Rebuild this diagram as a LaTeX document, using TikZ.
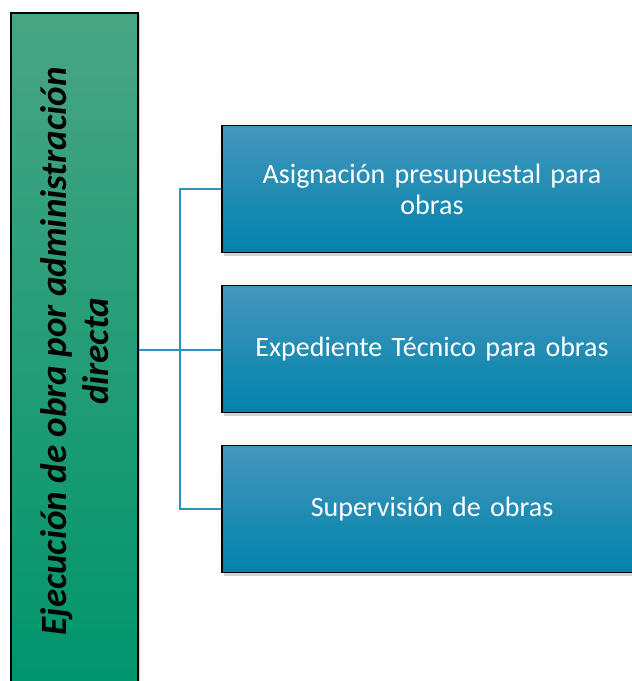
\documentclass[tikz,border=0pt]{standalone}
\usepackage{fontspec}
\setmainfont{Carlito}
\usepackage{tikz}
\usetikzlibrary{shadows}
\definecolor{greentop}{HTML}{48A584}
\definecolor{greenbot}{HTML}{00956B}
\definecolor{bluetop}{HTML}{4596BC}
\definecolor{bluebot}{HTML}{0083AC}
\definecolor{linkblue}{HTML}{2C93BE}
\tikzstyle{mainbox} = [rectangle, draw=black, line width=1.3pt, top color=greentop, bottom color=greenbot, text=black, font=\fontsize{37}{42}\selectfont\bfseries\itshape, align=center, minimum width=127pt, minimum height=677pt, inner sep=0pt, drop shadow={shadow xshift=2pt, shadow yshift=-2pt, opacity=0.35}]
\tikzstyle{task} = [rectangle, draw=black, line width=1.3pt, top color=bluetop, bottom color=bluebot, text=white, font=\fontsize{28}{31}\selectfont, align=center, text width=400pt, minimum width=420pt, minimum height=127pt, inner sep=0pt, drop shadow={shadow xshift=2pt, shadow yshift=-3pt, opacity=0.35}]
\tikzstyle{link} = [draw=linkblue, line width=1.2pt]

\begin{document}
\begin{tikzpicture}[x=1pt, y=1pt]
\useasboundingbox (0,0) rectangle (632,-681);
\clip (0,0) rectangle (632,-681);
\node [mainbox] (obra) at (74.5,-351.5) {};
\node [rotate=90, align=center, text=black, font=\fontsize{37}{42}\selectfont\bfseries\itshape] (obra-text) at (obra.center) {Ejecución de obra por administración\\directa};
\node [task] (asig) at (432,-189) {Asignación presupuestal para\\obras};
\node [task] (exped) at (432,-349) {Expediente Técnico para obras};
\node [task] (superv) at (432,-509) {Supervisión de obras};
\coordinate (fork) at (180,-350);
\path [link] (obra.east |- fork) -- (fork);
\path [link] (fork) -- (exped.west |- fork);
\path [link] (fork) |- (asig.west);
\path [link] (fork) |- (superv.west);
\end{tikzpicture}
\end{document}
